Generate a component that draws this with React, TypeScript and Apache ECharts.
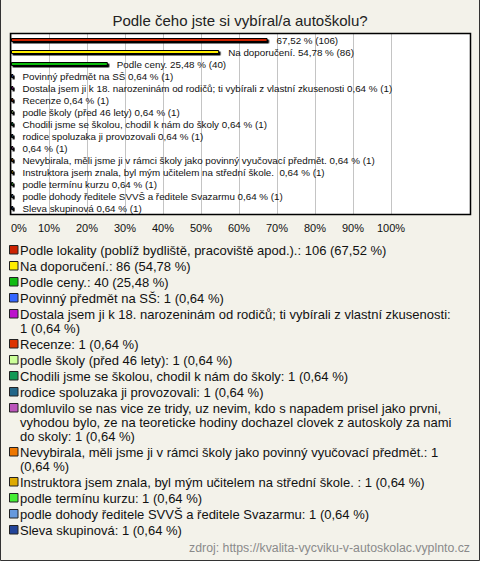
import React, { useEffect, useRef } from "react";
import * as echarts from "echarts";

const titleText = "Podle čeho jste si vybíral/a autoškolu?";
const sourceText = "zdroj: https://kvalita-vycviku-v-autoskolac.vyplnto.cz";

const categories = [
  "Podle lokality (poblíž bydliště, pracoviště apod.).",
  "Na doporučení.",
  "Podle ceny.",
  "Povinný předmět na SŠ",
  "Dostala jsem ji k 18. narozeninám od rodičů; ti vybírali z vlastní zkusenosti",
  "Recenze",
  "podle školy (před 46 lety)",
  "Chodili jsme se školou, chodil k nám do školy",
  "rodice spoluzaka ji provozovali",
  "domluvilo se nas vice ze tridy, uz nevim, kdo s napadem prisel jako prvni, vyhodou bylo, ze na teoreticke hodiny dochazel clovek z autoskoly za nami do skoly",
  "Nevybirala, měli jsme ji v rámci školy jako povinný vyučovací předmět.",
  "Instruktora jsem znala, byl mým učitelem na střední škole. ",
  "podle termínu kurzu",
  "podle dohody ředitele SVVŠ a ředitele Svazarmu",
  "Sleva skupinová",
];

const counts = [106, 86, 40, 1, 1, 1, 1, 1, 1, 1, 1, 1, 1, 1, 1];
const percents = [67.52, 54.78, 25.48, 0.64, 0.64, 0.64, 0.64, 0.64, 0.64, 0.64, 0.64, 0.64, 0.64, 0.64, 0.64];
const percentTexts = ["67,52", "54,78", "25,48", "0,64", "0,64", "0,64", "0,64", "0,64", "0,64", "0,64", "0,64", "0,64", "0,64", "0,64", "0,64"];

// names shown next to the bars (empty where the chart omits it)
const barNames = [
  "",
  "Na doporučení.",
  "Podle ceny.",
  "Povinný předmět na SŠ",
  "Dostala jsem ji k 18. narozeninám od rodičů; ti vybírali z vlastní zkusenosti",
  "Recenze",
  "podle školy (před 46 lety)",
  "Chodili jsme se školou, chodil k nám do školy",
  "rodice spoluzaka ji provozovali",
  "",
  "Nevybirala, měli jsme ji v rámci školy jako povinný vyučovací předmět.",
  "Instruktora jsem znala, byl mým učitelem na střední škole. ",
  "podle termínu kurzu",
  "podle dohody ředitele SVVŠ a ředitele Svazarmu",
  "Sleva skupinová",
];

// legend texts with the line breaks seen in the reference
const legendTexts = [
  "Podle lokality (poblíž bydliště, pracoviště apod.).: 106 (67,52 %)",
  "Na doporučení.: 86 (54,78 %)",
  "Podle ceny.: 40 (25,48 %)",
  "Povinný předmět na SŠ: 1 (0,64 %)",
  "Dostala jsem ji k 18. narozeninám od rodičů; ti vybírali z vlastní zkusenosti:\n1 (0,64 %)",
  "Recenze: 1 (0,64 %)",
  "podle školy (před 46 lety): 1 (0,64 %)",
  "Chodili jsme se školou, chodil k nám do školy: 1 (0,64 %)",
  "rodice spoluzaka ji provozovali: 1 (0,64 %)",
  "domluvilo se nas vice ze tridy, uz nevim, kdo s napadem prisel jako prvni,\nvyhodou bylo, ze na teoreticke hodiny dochazel clovek z autoskoly za nami\ndo skoly: 1 (0,64 %)",
  "Nevybirala, měli jsme ji v rámci školy jako povinný vyučovací předmět.: 1\n(0,64 %)",
  "Instruktora jsem znala, byl mým učitelem na střední škole. : 1 (0,64 %)",
  "podle termínu kurzu: 1 (0,64 %)",
  "podle dohody ředitele SVVŠ a ředitele Svazarmu: 1 (0,64 %)",
  "Sleva skupinová: 1 (0,64 %)",
];

const colors = [
  "#cc2200",
  "#ffee00",
  "#11bb11",
  "#3366ff",
  "#bb11cc",
  "#dd3300",
  "#ccff99",
  "#119955",
  "#226688",
  "#bb55bb",
  "#ee7700",
  "#ddaa00",
  "#44ee33",
  "#6699dd",
  "#224499",
];

const xTicks = [0, 10, 20, 30, 40, 50, 60, 70, 80, 90, 100];

const FONT = "'Liberation Sans', Arial, sans-serif";

export default function App() {
  const ref = useRef<HTMLDivElement>(null);

  useEffect(() => {
    if (!ref.current) return;
    const chart = echarts.init(ref.current, null, { renderer: "svg" });

    const plotLeft = 11;
    const plotTop = 34;
    const plotRight = 470;
    const plotBottom = 214;
    const axisEnd = 391;

    const legendEls: any[] = [];
    let y = 243;
    legendTexts.forEach((t, i) => {
      const lines = t.split("\n").length;
      legendEls.push({
        type: "rect",
        shape: { x: 9.5, y: y + 2.5, width: 8.5, height: 8.5 },
        style: { fill: colors[i], stroke: "#222", lineWidth: 1 },
      });
      legendEls.push({
        type: "text",
        x: 20,
        y: y,
        style: {
          text: t,
          font: `13px ${FONT}`,
          fill: "#111",
          lineHeight: 14,
          textVerticalAlign: "top",
          verticalAlign: "top",
        },
      });
      y += lines * 14 + 2;
    });

    const option: any = {
      animation: false,
      backgroundColor: "#f3f2ea",
      textStyle: { fontFamily: FONT },
      grid: {
        left: plotLeft,
        top: plotTop,
        width: axisEnd - plotLeft,
        height: plotBottom - plotTop,
        containLabel: false,
      },
      xAxis: {
        type: "value",
        min: xTicks[0],
        max: xTicks[xTicks.length - 1],
        interval: 10,
        axisLine: { show: false },
        axisTick: { show: false },
        splitLine: { show: true, lineStyle: { color: "#c4c4c4", width: 1 } },
        axisLabel: {
          formatter: "{value}%",
          fontSize: 11,
          color: "#111",
          margin: 8,
          fontFamily: FONT,
          alignMinLabel: "left",
        },
      },
      yAxis: {
        type: "category",
        data: categories,
        inverse: true,
        show: false,
      },
      series: [
        {
          type: "bar",
          data: percents.map((v, i) => ({
            value: v,
            itemStyle: { color: colors[i] },
          })),
          barWidth: 4,
          itemStyle: {
            borderColor: "#000",
            borderWidth: 1,
            shadowColor: "#000",
            shadowOffsetX: 1.5,
            shadowOffsetY: 1.5,
            shadowBlur: 0,
          },
          label: {
            show: true,
            position: "right",
            distance: 9,
            fontSize: 9.8,
            fontFamily: FONT,
            color: "#111",
            formatter: (p: any) => {
              const i = p.dataIndex;
              const n = barNames[i];
              return (n ? n + " " : "") + percentTexts[i] + " % (" + counts[i] + ")";
            },
          },
          z: 5,
        },
      ],
      graphic: {
        elements: [
          {
            type: "rect",
            z: -10,
            shape: { x: plotLeft, y: plotTop, width: plotRight - plotLeft, height: plotBottom - plotTop },
            style: { fill: "#ffffff" },
            silent: true,
          },
          {
            type: "rect",
            z: 100,
            shape: { x: plotLeft - 0.5, y: plotTop - 0.5, width: plotRight - plotLeft + 1, height: plotBottom - plotTop + 1 },
            style: { fill: "none", stroke: "#000", lineWidth: 1.5 },
            silent: true,
          },
          {
            type: "polyline",
            z: 100,
            shape: { points: [[0.5, 0], [0.5, 560.5], [479.5, 560.5], [479.5, 0]] },
            style: { fill: "none", stroke: "#333", lineWidth: 1 },
            silent: true,
          },
          {
            type: "text",
            x: 240,
            y: 20,
            style: {
              text: titleText,
              font: `15px ${FONT}`,
              fill: "#222",
              textAlign: "center",
              textVerticalAlign: "middle",
              align: "center",
              verticalAlign: "middle",
            },
          },
          ...legendEls,
          {
            type: "text",
            x: 470,
            y: 548,
            style: {
              text: sourceText,
              font: `12.3px ${FONT}`,
              fill: "#8a8a8a",
              align: "right",
              textAlign: "right",
              verticalAlign: "middle",
              textVerticalAlign: "middle",
            },
          },
        ],
      },
    };

    chart.setOption(option);
    return () => chart.dispose();
  }, []);

  return (
    <div
      ref={ref}
      style={{ position: "absolute", left: 0, top: 0, width: 480, height: 561 }}
    />
  );
}
